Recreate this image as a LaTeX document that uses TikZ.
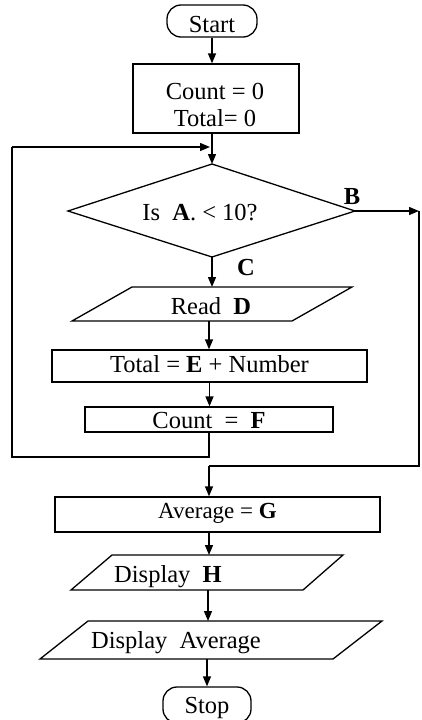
\documentclass[tikz,border=0pt]{standalone}
\usepackage{fontspec}
\setmainfont{Liberation Serif}
\usetikzlibrary{arrows.meta}
\begin{document}
\begin{tikzpicture}[x=1pt,y=-1pt,
  line width=1.3pt,
  txt/.style={font=\fontsize{24.5}{27}\selectfont, inner sep=0pt, anchor=base},
  lbl/.style={font=\fontsize{24.5}{27}\selectfont\bfseries, inner sep=0pt, anchor=base},
  boxn/.style={draw, line width=1.3pt, inner sep=0pt},
  term/.style={draw, line width=1.3pt, inner sep=0pt, rounded corners=14pt},
  arr/.style={-{Triangle[length=10pt,width=8pt]}}]
\useasboundingbox (0,0) rectangle (422,720);
\clip (0,0) rectangle (422,720);

% Start
\node[term, minimum width=90pt, minimum height=32pt] (start) at (212,21) {};
\node[txt] (startt) at (212,32) {Start};

% Init box
\node[boxn, minimum width=166pt, minimum height=69pt] (init) at (216,98.5) {};
\node[txt] (init1) at (215,99) {Count = 0};
\node[txt] (init2) at (215,126) {Total= 0};

% Decision
\coordinate (decn) at (212,164);
\coordinate (dece) at (355,211);
\coordinate (decs) at (212,257);
\coordinate (decw) at (68,211);
\draw (decn) -- (dece) -- (decs) -- (decw) -- cycle;
\node[txt] (dect) at (200,220) {Is\ \ \textbf{A}. < 10?};
\node[lbl] (labB) at (352,204) {B};
\node[lbl] (labC) at (246,275) {C};

% Read D
\coordinate (readn) at (212,287);
\coordinate (reads) at (209,321);
\draw (132,287) -- (352,287) -- (292,321) -- (72,321) -- cycle;
\node[txt] (readt) at (211,314) {Read\ \ \textbf{D}};

% Total
\node[boxn, minimum width=315pt, minimum height=32pt] (total) at (209.5,366) {};
\node[txt] (totalt) at (209.5,372) {Total = \textbf{E} + Number};

% Count
\node[boxn, minimum width=248pt, minimum height=25pt] (count) at (209,419.5) {};
\node[txt] (countt) at (209,428) {Count\ \ =\ \ \textbf{F}};

% Average
\node[boxn, minimum width=325pt, minimum height=35pt] (avg) at (217.5,514.5) {};
\node[txt, font=\fontsize{23}{26}\selectfont] (avgt) at (217.5,518) {Average = \textbf{G}};

% Display H
\coordinate (dhn) at (209,555);
\coordinate (dhs) at (208,590);
\draw (112,555) -- (343,555) -- (303,590) -- (71,590) -- cycle;
\node[txt] (dht) at (168,582) {Display\ \ \textbf{H}};

% Display Average
\coordinate (dan) at (208,621);
\coordinate (das) at (207,659);
\draw (88,621) -- (382,621) -- (333,659) -- (40,659) -- cycle;
\node[txt] (dat) at (176,648) {Display\ \ Average};

% Stop
\node[term, minimum width=88pt, minimum height=36pt] (stop) at (207,705) {};
\node[txt] (stopt) at (207,713) {Stop};

% Connectors
\draw[arr] (start.south) -- (start.south |- init.north);
\draw[arr] (decn |- init.south) -- (decn);
\coordinate (loopB) at (12,457);
\coordinate (loopT) at (12,147);
\coordinate (loopin) at (210,147);
\draw (count.south) -- (count.south |- loopB) -- (loopB) -- (loopT);
\draw[arr] (loopT) -- (loopin);
\coordinate (yesR) at (419,211);
\coordinate (yesB) at (419,466);
\coordinate (avgin) at (209,466);
\draw[arr] (dece) -- (yesR);
\draw (yesR) -- (yesB) -- (avgin);
\draw[arr] (avgin) -- (avgin |- avg.north);
\draw[arr] (decs) -- (readn);
\draw[arr] (reads) -- (reads |- total.north);
\draw[arr] (total.south) -- (total.south |- count.north);
\draw[arr] (dhn |- avg.south) -- (dhn);
\draw[arr] (dhs) -- (dan);
\draw[arr] (das) -- (stop.north);
\end{tikzpicture}
\end{document}
